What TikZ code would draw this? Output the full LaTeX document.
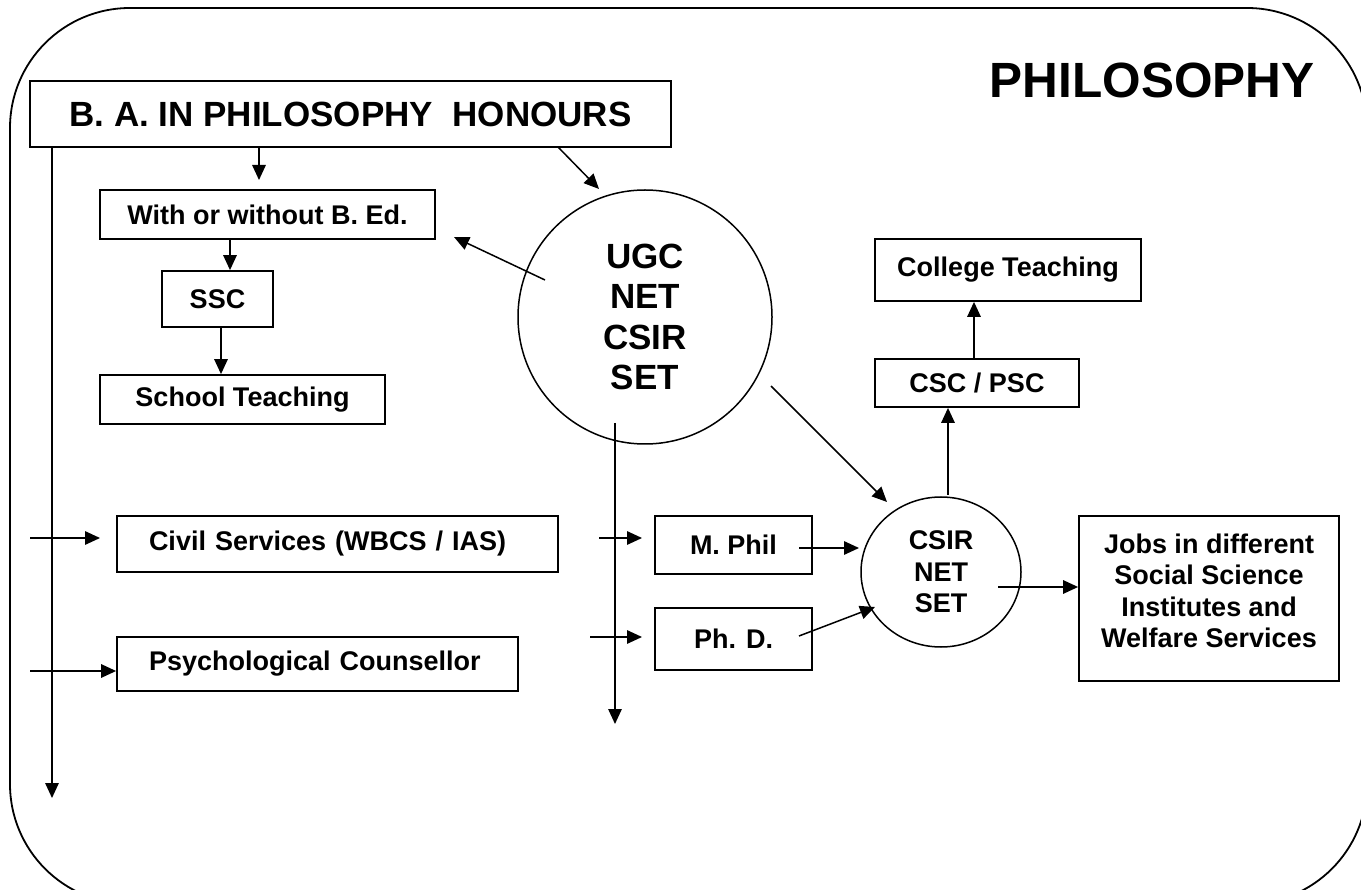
\documentclass[tikz,border=0pt]{standalone}
\usepackage{fontspec}
\setmainfont{Liberation Sans}
\usetikzlibrary{arrows.meta,shapes.geometric}
\begin{document}
\begin{tikzpicture}[x=1pt,y=-1pt,
  every node/.style={font=\bfseries\fontsize{27}{31.5}\selectfont},
  box/.style={draw, line width=1.8pt, inner sep=0pt, align=center},
  roundbox/.style={draw, line width=1.5pt, inner sep=0pt, align=center},
  arr/.style={line width=1.5pt, -{Triangle[length=15pt,width=13.5pt]}},
  plain/.style={inner sep=0pt, align=center}]
\useasboundingbox (0,0) rectangle (1361,890);
\begin{scope}
\clip (0,0) rectangle (1361,890);
\draw[line width=1.8pt, rounded corners=120pt] (10,8) rectangle (1367,904);
\end{scope}

\node[plain, font=\bfseries\fontsize{49.5}{56}\selectfont] (title) at (1152,80) {PHILOSOPHY};

\node[box, font=\bfseries\fontsize{35}{40}\selectfont, minimum width=641pt, minimum height=66pt] (ba) at (350.5,114) {B. A. IN PHILOSOPHY\ \ HONOURS};
\node[box, minimum width=335pt, minimum height=49pt] (with) at (267.5,214.5) {With or without B. Ed.};
\node[box, minimum width=111pt, minimum height=56pt] (ssc) at (217.5,299) {SSC};
\node[box, minimum width=285pt, minimum height=49pt] (school) at (242.5,399.5) {School Teaching};

\node[roundbox, circle, minimum size=254pt, font=\bfseries\fontsize{35}{40.5}\selectfont] (ugc) at (645,317) {UGC\\NET\\CSIR\\SET};

\node[box, minimum width=266pt, minimum height=62pt] (college) at (1008,270) {College Teaching};
\node[box, minimum width=204pt, minimum height=48pt] (csc) at (977,383) {CSC / PSC};

\node[roundbox, ellipse, minimum width=160pt, minimum height=150pt] (csir) at (941,572) {CSIR\\NET\\SET};

\node[box, minimum width=157pt, minimum height=58pt] (mphil) at (733.5,545) {M. Phil};
\node[box, minimum width=157pt, minimum height=62pt] (phd) at (733.5,639) {Ph. D.};

\node[box, minimum width=260pt, minimum height=165pt] (jobs) at (1209,598.5) {};
\node[plain] (jobstext) at (1209,591) {Jobs in different\\Social Science\\Institutes and\\Welfare Services};

\node[box, inner xsep=32pt, text width=377pt, align=left, minimum height=56pt] (civil) at (337.5,544) {Civil Services (WBCS / IAS)};
\node[box, inner xsep=32pt, text width=337pt, align=left, minimum height=54pt] (psych) at (317.5,664) {Psychological Counsellor};

\coordinate (t1) at (52,798);
\coordinate (t2) at (259,180);
\coordinate (x3) at (230,0);
\coordinate (x4) at (221,0);
\coordinate (s5) at (558,147);
\coordinate (t5) at (599,189);
\coordinate (s6) at (545,280);
\coordinate (t6) at (454,237);
\coordinate (s7) at (615,423);
\coordinate (t7) at (615,724);
\coordinate (s8) at (771,386);
\coordinate (t8) at (887,502);
\coordinate (s9) at (948,495);
\coordinate (x10) at (974,0);
\coordinate (s11) at (30,538);
\coordinate (t11) at (100,538);
\coordinate (s12) at (30,671);
\coordinate (s13) at (599,538);
\coordinate (t13) at (642,538);
\coordinate (s14) at (590,637);
\coordinate (t14) at (642,637);
\coordinate (s15) at (799,548);
\coordinate (t15) at (859,548);
\coordinate (s16) at (799,636);
\coordinate (t16) at (875,607);
\coordinate (s17) at (998,587);

\draw[arr] (ba.south -| t1) -- (t1);
\draw[arr] (ba.south -| t2) -- (t2);
\draw[arr] (with.south -| x3) -- (ssc.north -| x3);
\draw[arr] (ssc.south -| x4) -- (school.north -| x4);
\draw[arr] (s5) -- (t5);
\draw[arr] (s6) -- (t6);
\draw[arr] (s7) -- (t7);
\draw[arr] (s8) -- (t8);
\draw[arr] (s9) -- (csc.south -| s9);
\draw[arr] (csc.north -| x10) -- (college.south -| x10);
\draw[arr] (s11) -- (t11);
\draw[arr] (s12) -- (psych.west |- s12);
\draw[arr] (s13) -- (t13);
\draw[arr] (s14) -- (t14);
\draw[arr] (s15) -- (t15);
\draw[arr] (s16) -- (t16);
\draw[arr] (s17) -- (jobs.west |- s17);
\end{tikzpicture}
\end{document}
